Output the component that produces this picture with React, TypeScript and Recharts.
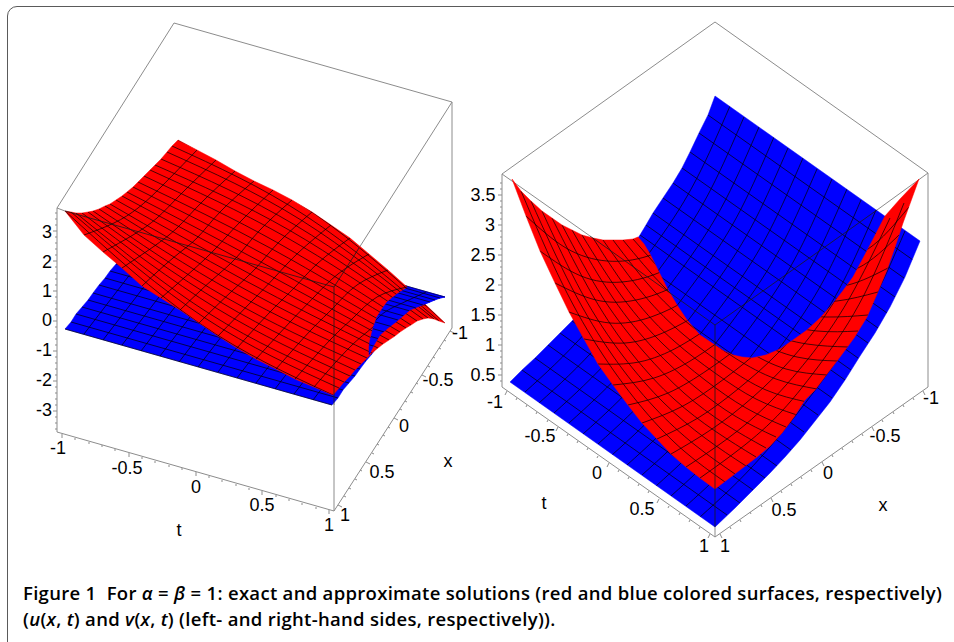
import { ScatterChart, Scatter, XAxis, YAxis, Curve } from "recharts";

const leftBoxGrey = [
  [174, 23, 452, 102],
  [174, 23, 57, 208],
  [57, 208, 65, 211],
  [57, 208, 57, 432],
  [452, 102, 359, 248],
  [452, 102, 452, 328],
  [57, 432, 334, 511],
  [334, 511, 452, 328],
  [334, 405, 334, 511],
];
const leftBoxDark = [
  [65, 211, 334, 287],
  [334, 287, 359, 248],
  [334, 287, 334, 405],
];
const rightBoxGrey = [
  [502, 174, 715, 22],
  [715, 22, 928, 173],
  [502, 174, 502, 387],
  [928, 173, 928, 387],
  [502, 387, 715, 537],
  [715, 537, 928, 387],
  [502, 174, 590, 236],
  [928, 173, 877, 210],
  [715, 527, 715, 537],
];
const rightBoxDark = [
  [590, 236, 715, 325],
  [877, 210, 715, 325],
  [715, 325, 715, 527],
];

const leftBlueOutline = [
  65, 329, 71, 322, 76, 314, 82, 307, 88, 300, 93, 293, 99, 285, 105, 278, 110, 271, 116, 264, 121, 257, 126, 251, 131, 245,
  137, 240, 143, 235, 149, 232, 156, 229, 163, 226, 168, 224, 173, 222, 178, 221, 445, 297, 440, 298, 435, 300, 430, 302,
  423, 305, 416, 308, 410, 311, 404, 316, 398, 320, 393, 327, 388, 333, 383, 340, 377, 347, 372, 354, 366, 361, 360, 369,
  355, 376, 349, 383, 343, 390, 338, 398, 332, 405,
];
const leftBluePatch = [
  408, 287, 445, 297, 437, 299, 430, 302, 420, 306, 410, 310, 403, 316, 396, 322, 388, 328, 380, 335, 374, 345, 369, 355,
  369, 347, 370, 340, 373, 328, 377, 317, 382, 309, 387, 302, 397, 294,
];
const leftRedOutline = [
  65, 211, 71, 212, 76, 213, 82, 213, 88, 212, 93, 211, 99, 209, 105, 206, 110, 204, 116, 200, 122, 196, 127, 192, 133, 187,
  138, 182, 144, 176, 150, 170, 155, 165, 161, 159, 167, 152, 172, 146, 178, 140, 197, 150, 216, 160, 235, 171, 254, 181,
  273, 190, 292, 200, 312, 212, 331, 225, 350, 238, 369, 254, 388, 270, 407, 287, 426, 305, 445, 323, 439, 321, 434, 319,
  428, 318, 423, 319, 417, 321, 411, 325, 406, 328, 400, 332, 395, 336, 389, 340, 383, 344, 378, 348, 372, 353, 367, 358,
  361, 364, 355, 370, 350, 376, 344, 382, 339, 388, 333, 395, 314, 387, 295, 379, 276, 369, 256, 359, 237, 348, 218, 336,
  199, 323, 180, 310, 161, 298, 142, 286, 122, 268, 103, 252, 84, 235,
];
const rightBlueOutline = [
  715, 96, 920, 241, 905, 277, 890, 307, 875, 333, 860, 356, 845, 380, 830, 402, 815, 421, 800, 440, 785, 457, 770, 473,
  755, 488, 735, 508, 715, 527, 510, 382, 522, 370, 535, 358, 548, 345, 560, 333, 572, 321, 586, 305, 599, 287, 613, 270,
  627, 253, 640, 235, 646, 225, 653, 213, 663, 198, 673, 183, 682, 168, 690, 152, 699, 133, 708, 115,
];
const rightRedOutline = [
  512, 179, 521, 191, 531, 201, 542, 211, 552, 218, 562, 225, 572, 230, 582, 235, 593, 238, 603, 240, 613, 240, 623, 240,
  633, 239, 638, 237, 644, 244, 650, 254, 658, 270, 667, 288, 677, 305, 687, 320, 700, 335, 715, 345, 724, 351, 733, 355,
  742, 357, 752, 358, 766, 355, 780, 349, 793, 340, 807, 330, 819, 319, 830, 307, 842, 292, 853, 277, 869, 247, 885, 216,
  900, 199, 919, 179, 911, 201, 903, 223, 895, 247, 887, 270, 877, 294, 867, 317, 854, 338, 840, 357, 827, 374, 815, 390,
  805, 400, 794, 417, 782, 433, 770, 446, 757, 457, 736, 473, 715, 489, 700, 478, 686, 467, 671, 454, 657, 439, 642, 423,
  628, 405, 613, 385, 598, 364, 584, 339, 569, 312, 555, 283, 540, 251, 526, 216,
];

// left plot, lower surface
const leftBlueLong = [
  [65, 329, 332, 405], [71, 322, 338, 398], [76, 314, 343, 390], [82, 307, 349, 383], [88, 300, 355, 376],
  [93, 293, 360, 369], [99, 285, 366, 361], [105, 278, 372, 354], [110, 271, 377, 347], [116, 264, 383, 340],
  [121, 257, 388, 333], [126, 251, 393, 327], [131, 244, 398, 320], [137, 240, 404, 316], [143, 235, 410, 311],
  [149, 232, 416, 308], [156, 229, 423, 305], [163, 226, 430, 302], [168, 224, 435, 300], [173, 222, 440, 298],
  [178, 221, 445, 297],
];
const leftBlueCross = [
  [84, 334, 121, 286, 148, 253, 167, 240, 197, 226],
  [103, 340, 140, 292, 167, 259, 186, 246, 216, 232],
  [122, 345, 159, 297, 186, 264, 205, 251, 235, 237],
  [141, 351, 178, 303, 205, 270, 224, 257, 254, 243],
  [160, 356, 197, 308, 224, 275, 243, 262, 273, 248],
  [179, 362, 216, 314, 243, 281, 262, 268, 292, 254],
  [198, 367, 235, 319, 262, 286, 281, 273, 311, 259],
  [218, 372, 255, 324, 282, 291, 301, 278, 331, 264],
  [237, 378, 274, 330, 301, 297, 320, 284, 350, 270],
  [256, 383, 293, 335, 320, 302, 339, 289, 369, 275],
  [275, 389, 312, 341, 339, 308, 358, 295, 388, 281],
  [294, 394, 331, 346, 358, 313, 377, 300, 407, 286],
  [313, 400, 350, 352, 377, 319, 396, 306, 426, 292],
];

// left plot, upper surface
const leftRedLong = [
  [65, 211, 199, 323, 333, 395], [71, 212, 205, 318, 339, 388], [76, 213, 210, 314, 344, 382],
  [82, 213, 216, 308, 350, 376], [88, 212, 222, 303, 355, 370], [93, 211, 227, 298, 361, 364],
  [99, 209, 233, 292, 367, 358], [105, 206, 239, 286, 372, 353], [110, 204, 244, 280, 378, 348],
  [116, 200, 250, 274, 383, 344], [122, 196, 256, 268, 389, 340], [127, 192, 261, 262, 395, 336],
  [133, 187, 267, 256, 400, 332], [138, 182, 272, 249, 406, 328], [144, 176, 278, 243, 411, 325],
  [150, 170, 284, 236, 417, 321], [155, 165, 289, 230, 423, 319], [161, 159, 295, 225, 428, 318],
  [167, 152, 301, 220, 434, 319], [172, 146, 306, 216, 439, 321], [178, 140, 312, 212, 445, 323],
];
const leftRedCross = [
  [84, 235, 114, 223, 138, 208, 162, 186, 197, 150],
  [103, 252, 133, 235, 157, 218, 181, 194, 216, 160],
  [122, 268, 153, 247, 177, 228, 201, 203, 235, 171],
  [142, 286, 173, 258, 197, 238, 220, 212, 254, 181],
  [161, 298, 193, 270, 216, 248, 240, 222, 273, 190],
  [180, 310, 212, 280, 236, 258, 259, 231, 292, 200],
  [199, 323, 232, 291, 256, 268, 279, 242, 312, 212],
  [218, 336, 252, 301, 275, 277, 299, 252, 331, 225],
  [237, 348, 271, 311, 295, 287, 318, 263, 350, 238],
  [256, 359, 291, 321, 314, 297, 338, 274, 369, 254],
  [276, 369, 311, 330, 334, 307, 357, 285, 388, 270],
  [295, 379, 331, 339, 354, 317, 377, 297, 407, 287],
  [314, 387, 350, 347, 373, 327, 396, 309, 426, 305],
];

// right plot, lower surface
const rightBlueStraight = [
  [708, 115, 913, 260], [699, 133, 904, 278], [690, 152, 895, 297], [682, 168, 887, 313], [673, 183, 878, 328],
  [663, 198, 868, 343], [653, 213, 858, 358], [646, 225, 851, 370], [640, 235, 845, 380], [627, 253, 832, 398],
  [613, 270, 818, 415], [599, 287, 804, 432], [586, 305, 791, 450], [572, 321, 777, 466], [560, 333, 765, 478],
  [548, 345, 753, 490], [535, 358, 740, 503], [522, 370, 727, 515],
];
const rightBlueBent = [
  [730, 106, 697, 178, 655, 245, 587, 331, 525, 392],
  [744, 117, 711, 189, 669, 256, 601, 342, 539, 403],
  [759, 127, 726, 199, 684, 266, 616, 352, 554, 413],
  [774, 137, 741, 209, 699, 276, 631, 362, 569, 423],
  [788, 148, 755, 220, 713, 287, 645, 373, 583, 434],
  [803, 158, 770, 230, 728, 297, 660, 383, 598, 444],
  [817, 169, 784, 241, 742, 308, 674, 394, 612, 455],
  [832, 179, 799, 251, 757, 318, 689, 404, 627, 465],
  [847, 189, 814, 261, 772, 328, 704, 414, 642, 475],
  [861, 200, 828, 272, 786, 339, 718, 425, 656, 486],
  [876, 210, 843, 282, 801, 349, 733, 435, 671, 496],
  [891, 220, 858, 292, 816, 359, 748, 445, 686, 506],
  [905, 231, 872, 303, 830, 370, 762, 456, 700, 517],
];

// right plot, upper surface
const rightRedSteep = [
  [725, 482, 684, 451, 644, 410, 603, 355, 562, 283, 521, 191],
  [735, 474, 695, 445, 654, 407, 613, 356, 572, 288, 531, 201],
  [746, 466, 705, 438, 664, 403, 623, 356, 582, 293, 542, 211],
  [756, 457, 715, 431, 674, 399, 633, 355, 593, 296, 552, 218],
  [766, 448, 725, 424, 684, 393, 644, 352, 603, 298, 562, 225],
  [776, 437, 735, 416, 695, 387, 654, 349, 613, 298, 572, 230],
  [786, 427, 746, 408, 705, 380, 664, 345, 623, 298, 582, 235],
  [797, 415, 756, 399, 715, 373, 674, 341, 633, 297, 593, 238],
  [807, 402, 766, 390, 725, 366, 684, 335, 644, 295, 603, 240],
  [817, 389, 776, 379, 735, 358, 695, 329, 654, 291, 613, 240],
  [827, 375, 786, 369, 746, 350, 705, 322, 664, 287, 623, 240],
  [837, 361, 797, 357, 756, 341, 715, 315, 674, 283, 633, 239],
  [848, 347, 807, 344, 766, 332, 725, 308, 684, 277, 644, 236],
  [858, 331, 817, 331, 776, 321, 735, 300, 695, 271, 654, 233],
  [868, 315, 827, 317, 786, 311, 746, 292, 705, 264, 664, 229],
  [878, 292, 837, 301, 797, 299, 756, 283, 715, 257, 674, 225],
  [888, 268, 848, 285, 807, 286, 766, 273, 725, 250],
  [899, 235, 858, 268, 817, 273, 776, 263, 735, 242],
  [909, 207, 868, 249, 827, 259, 786, 253, 746, 234],
];
const rightRedArc = [
  [700, 478, 741, 448, 782, 411, 823, 360, 864, 295, 904, 203],
  [686, 467, 727, 439, 767, 405, 808, 359, 849, 299, 890, 218],
  [671, 454, 712, 429, 753, 397, 794, 356, 834, 302, 875, 231],
  [657, 439, 698, 418, 738, 389, 779, 352, 820, 302, 861, 238],
  [642, 423, 683, 406, 724, 379, 765, 345, 805, 300, 846, 242],
  [628, 405, 668, 393, 709, 369, 750, 338, 791, 297, 832, 245],
  [613, 385, 654, 378, 695, 358, 735, 329, 776, 292, 817, 244],
  [598, 364, 639, 362, 680, 346, 721, 319, 762, 286, 802, 242],
  [584, 339, 625, 343, 665, 332, 706, 309, 747, 278],
  [569, 312, 610, 323, 651, 317, 692, 297, 733, 269],
  [555, 283, 596, 300, 636, 300, 677, 285, 718, 259],
  [540, 251, 581, 276, 622, 282, 663, 271, 703, 249],
  [526, 216, 566, 248, 607, 261, 648, 256, 689, 237],
];

// axis tick positions
const leftZTicks = [
  213, 219, 225, 231, 237, 243, 249, 255, 261, 267, 273, 279, 285, 291, 297, 303, 309, 315, 321, 327, 333, 339, 345, 351,
  357, 363, 369, 375, 381, 387, 393, 399, 405, 411, 417, 423, 429,
];
const rightZTicks = [
  183, 189, 195, 201, 207, 213, 219, 225, 231, 237, 243, 249, 255, 261, 267, 273, 279, 285, 291, 297, 303, 309, 315, 321,
  327, 333, 339, 345, 351, 357, 363, 369, 375, 381,
];
const leftTTicks = [
  62, 434, 75, 438, 89, 442, 102, 445, 115, 449, 129, 453, 142, 457, 155, 461, 169, 465, 182, 468, 196, 472, 209, 476, 222,
  480, 236, 484, 249, 488, 262, 491, 276, 495, 289, 499, 302, 503, 316, 507, 329, 510,
];
const leftXTicks = [
  338, 505, 344, 496, 349, 488, 355, 479, 360, 470, 366, 462, 372, 453, 377, 444, 383, 435, 388, 427, 394, 418, 400, 409,
  405, 401, 411, 392, 416, 383, 422, 375, 428, 366, 433, 357, 439, 348, 444, 340, 450, 331,
];
const rightTTicks = [
  507, 391, 517, 398, 527, 405, 537, 412, 548, 420, 558, 427, 568, 434, 578, 441, 588, 448, 598, 456, 609, 463, 619, 470,
  629, 477, 639, 484, 649, 491, 659, 499, 669, 506, 680, 513, 690, 520, 700, 527, 710, 534,
];
const rightXTicks = [
  720, 534, 730, 527, 740, 520, 750, 512, 761, 505, 771, 498, 781, 491, 791, 484, 801, 477, 811, 470, 822, 462, 832, 455,
  842, 448, 852, 441, 862, 434, 872, 427, 882, 420, 893, 412, 903, 405, 913, 398, 923, 391,
];

const tickLabels = [
  { x: 47, y: 232, text: "3" }, { x: 47, y: 262, text: "2" }, { x: 47, y: 291, text: "1" }, { x: 47, y: 320, text: "0" },
  { x: 44, y: 350, text: "-1" }, { x: 44, y: 380, text: "-2" }, { x: 44, y: 410, text: "-3" },
  { x: 58, y: 448, text: "-1" }, { x: 127, y: 468, text: "-0.5" }, { x: 196, y: 487, text: "0" },
  { x: 262, y: 505, text: "0.5" }, { x: 329, y: 525, text: "1" }, { x: 179, y: 530, text: "t" },
  { x: 345, y: 515, text: "1" }, { x: 382, y: 472, text: "0.5" }, { x: 404, y: 426, text: "0" },
  { x: 438, y: 380, text: "-0.5" }, { x: 460, y: 333, text: "-1" }, { x: 448, y: 461, text: "x" },
  { x: 483, y: 195, text: "3.5" }, { x: 490, y: 225, text: "3" }, { x: 483, y: 255, text: "2.5" },
  { x: 490, y: 285, text: "2" }, { x: 483, y: 315, text: "1.5" }, { x: 490, y: 345, text: "1" },
  { x: 483, y: 375, text: "0.5" }, { x: 495, y: 402, text: "-1" }, { x: 540, y: 436, text: "-0.5" },
  { x: 597, y: 473, text: "0" }, { x: 642, y: 509, text: "0.5" }, { x: 704, y: 546, text: "1" },
  { x: 544, y: 503, text: "t" }, { x: 725, y: 546, text: "1" }, { x: 784, y: 510, text: "0.5" },
  { x: 828, y: 473, text: "0" }, { x: 885, y: 436, text: "-0.5" }, { x: 931, y: 398, text: "-1" },
  { x: 883, y: 505, text: "x" },
];

const RED = "#ff0000";
const BLUE = "#0000ff";
const BOX_GREY = "#8c8c8c";
const noDot = () => <g />;

function toPoints(flat: number[]) {
  const out: { x: number; y: number }[] = [];
  for (let i = 0; i < flat.length; i += 2) out.push({ x: flat[i], y: flat[i + 1] });
  return out;
}

function surface(id: string, flat: number[], fill: string) {
  return (
    <Scatter
      key={id}
      data={toPoints(flat)}
      shape={noDot}
      isAnimationActive={false}
      line={(p: any) => {
        const d = "M" + p.points.map((q: any) => `${q.x},${q.y}`).join("L") + "Z";
        return (
          <g>
            <clipPath id={id}>
              <path d={d} />
            </clipPath>
            <path d={d} fill={fill} stroke={fill} strokeWidth={0.5} strokeLinejoin="round" />
          </g>
        );
      }}
    />
  );
}

function wire(key: string, flat: number[], stroke: string, width: number, clip?: string) {
  return (
    <Scatter
      key={key}
      data={toPoints(flat)}
      shape={noDot}
      isAnimationActive={false}
      line={(p: any) => (
        <g clipPath={clip ? `url(#${clip})` : undefined}>
          <Curve
            points={p.points}
            type={flat.length > 4 ? "natural" : "linear"}
            stroke={stroke}
            strokeWidth={width}
            fill="none"
          />
        </g>
      )}
    />
  );
}

function mesh(prefix: string, rows: number[][], clip?: string) {
  return rows.map((r, i) => wire(`${prefix}${i}`, r, "#000000", 0.7, clip));
}

function ticks(key: string, flat: number[], dx: number, dy: number, majorAt: number) {
  return (
    <Scatter
      key={key}
      data={toPoints(flat)}
      isAnimationActive={false}
      shape={(p: any) => {
        const k = p.index % 5 === majorAt ? 2 : 1;
        return <line x1={p.cx} y1={p.cy} x2={p.cx + dx * k} y2={p.cy + dy * k} stroke={BOX_GREY} strokeWidth={1} />;
      }}
    />
  );
}

const zPoints = (ys: number[], x: number) => ys.flatMap((y) => [x, y]);

export default function App() {
  return (
    <div style={{ position: "absolute", left: 0, top: 0, width: 954, height: 642, overflow: "hidden", background: "#fff" }}>
      <div
        style={{
          position: "absolute",
          left: 7,
          top: 6,
          width: 970,
          height: 650,
          border: "1.5px solid #5a5a5a",
          borderRadius: 10,
        }}
      />
      <div style={{ position: "absolute", left: 0, top: 0 }}>
        <ScatterChart width={954} height={642} margin={{ top: 0, right: 0, bottom: 0, left: 0 }}>
          <XAxis type="number" dataKey="x" domain={[0, 954]} hide />
          <YAxis type="number" dataKey="y" domain={[0, 642]} reversed hide />

          {leftBoxGrey.map((r, i) => wire(`lg${i}`, r, BOX_GREY, 1))}
          {rightBoxGrey.map((r, i) => wire(`rg${i}`, r, BOX_GREY, 1))}
          {ticks("tz1", zPoints(leftZTicks, 57), -2, 0, 3)}
          {ticks("tz2", zPoints(rightZTicks, 502), -2, 0, 2)}
          {ticks("tt1", leftTTicks, 0, 2, 0)}
          {ticks("tx1", leftXTicks, 2, 1, 0)}
          {ticks("tt2", rightTTicks, -1, 2, 0)}
          {ticks("tx2", rightXTicks, 1, 2, 0)}

          {surface("leftBlue", leftBlueOutline, BLUE)}
          {mesh("lbl", leftBlueLong)}
          {mesh("lbc", leftBlueCross)}
          {surface("leftRed", leftRedOutline, RED)}
          {mesh("lrl", leftRedLong, "leftRed")}
          {mesh("lrc", leftRedCross, "leftRed")}
          {surface("leftPatch", leftBluePatch, BLUE)}
          {mesh("lpl", leftBlueLong, "leftPatch")}
          {mesh("lpc", leftBlueCross, "leftPatch")}
          {leftBoxDark.map((r, i) => wire(`ld${i}`, r, "#1a1a1a", 0.8))}

          {surface("rightBlue", rightBlueOutline, BLUE)}
          {mesh("rbs", rightBlueStraight, "rightBlue")}
          {mesh("rbb", rightBlueBent, "rightBlue")}
          {surface("rightRed", rightRedOutline, RED)}
          {mesh("rrs", rightRedSteep, "rightRed")}
          {mesh("rra", rightRedArc, "rightRed")}
          {rightBoxDark.map((r, i) => wire(`rd${i}`, r, "#1a1a1a", 0.8))}

          <Scatter
            data={tickLabels}
            isAnimationActive={false}
            shape={(p: any) => (
              <text
                x={p.cx}
                y={p.cy}
                textAnchor="middle"
                dominantBaseline="central"
                fontFamily="'Liberation Sans', Arial, sans-serif"
                fontSize={18}
                fill="#000"
              >
                {p.payload.text}
              </text>
            )}
          />
        </ScatterChart>
      </div>
      <div
        style={{
          position: "absolute",
          left: 23,
          top: 580,
          whiteSpace: "nowrap",
          fontFamily: "'Open Sans', sans-serif",
          fontWeight: 600,
          fontSize: 18.5,
          letterSpacing: 0.3,
          lineHeight: "26px",
          color: "#000",
        }}
      >
        <div>
          Figure 1&nbsp;&nbsp;For <i>α</i> = <i>β</i> = 1: exact and approximate solutions (red and blue colored surfaces, respectively)
        </div>
        <div>
          (<i>u</i>(<i>x</i>, <i>t</i>) and <i>v</i>(<i>x</i>, <i>t</i>) (left- and right-hand sides, respectively)).
        </div>
      </div>
    </div>
  );
}
